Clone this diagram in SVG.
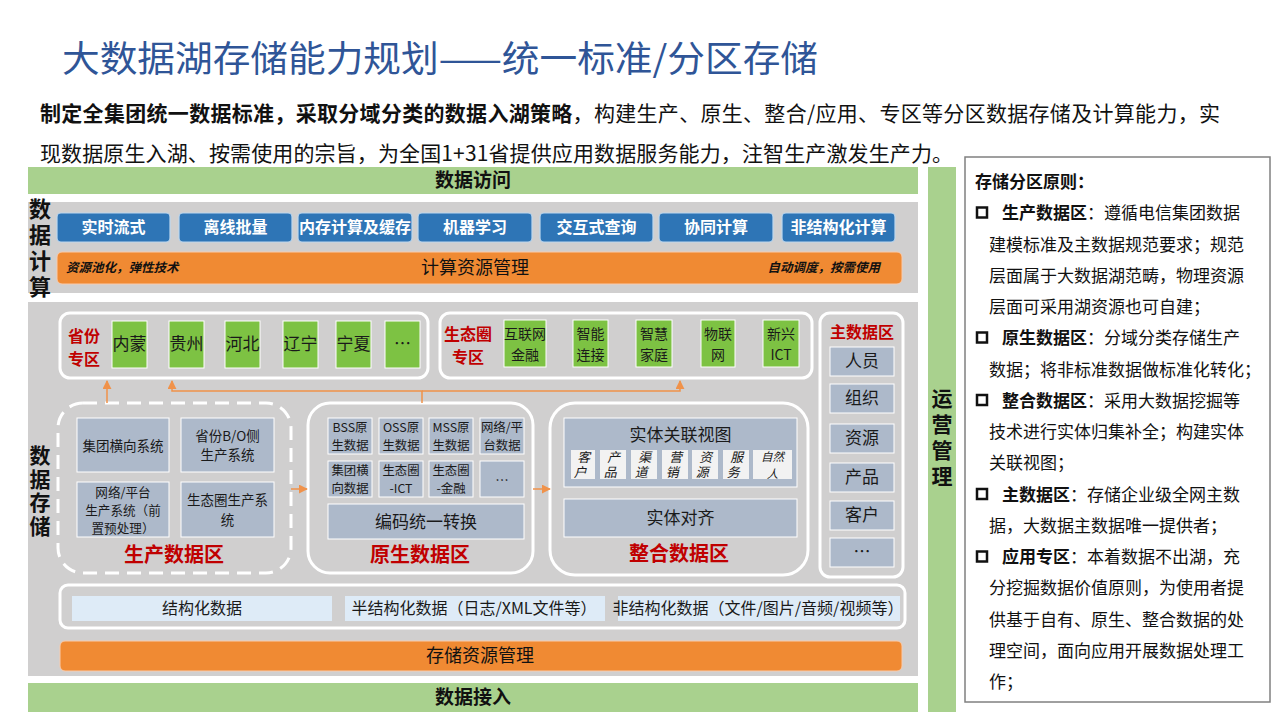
<svg xmlns="http://www.w3.org/2000/svg" width="1280" height="720" viewBox="0 0 1280 720">
<defs>
<marker id="ah" viewBox="0 0 10 10" refX="9" refY="5" markerWidth="6" markerHeight="6" orient="auto-start-reverse"><path d="M0,0 L10,5 L0,10 z" fill="#F0924A"/></marker>
</defs>
<style>
text{font-family:"Noto Sans CJK SC","Noto Sans",sans-serif;}
.green{fill:#A9D18E}
.gray{fill:#D0CFCF}
.btn{fill:#2E75B6;stroke:#BDD7EE;stroke-width:1.2}
.btnt{fill:#fff;font-size:16px;font-weight:bold;text-anchor:middle}
.orange{fill:#F08A33;stroke:#F8CBAD;stroke-width:1}
.frame{fill:none;stroke:#fff;stroke-width:3}
.dash{fill:none;stroke:#fff;stroke-width:3;stroke-dasharray:14 8}
.gbox{fill:#7DC243;stroke:#fff;stroke-width:1}
.bbox{fill:#ADB9CA;stroke:#fff;stroke-width:1}
.lbox{fill:#F2F2F2}
.sbox{fill:#DEEBF7}
.red{fill:#C00000;font-weight:bold;text-anchor:middle}
.c{text-anchor:middle;fill:#1a1a1a}
.s17{font-size:17px}
.s14{font-size:14px}
.s13{font-size:13.5px}
.s12{font-size:12.4px}
.it{font-size:11.5px;font-style:italic}
.vit{font-size:13px;fill:#1a1a1a;text-anchor:middle;writing-mode:vertical-rl;letter-spacing:2px}
.vl{font-weight:bold;text-anchor:middle;fill:#111}
.vert{font-weight:bold;text-anchor:middle;fill:#111;writing-mode:vertical-rl}
.conn{fill:none;stroke:#F0924A;stroke-width:1.5}
.pt{font-size:17px;fill:#111}
.bul{fill:none;stroke:#111;stroke-width:2.5}
</style>

<rect width="1280" height="720" fill="#fff"/>

<g id="title">
<text x="62" y="72" font-size="36" fill="#2F5597" textLength="756" lengthAdjust="spacingAndGlyphs">大数据湖存储能力规划——统一标准/分区存储</text>
<text x="40" y="121" font-size="21" fill="#111" textLength="1180"><tspan font-weight="bold">制定全集团统一数据标准，采取分域分类的数据入湖策略</tspan>，构建生产、原生、整合/应用、专区等分区数据存储及计算能力，实</text>
<text x="40" y="161" font-size="21" fill="#111" textLength="913">现数据原生入湖、按需使用的宗旨，为全国1+31省提供应用数据服务能力，注智生产激发生产力。</text>
</g>

<g id="data-access">
<rect class="green" x="28" y="167" width="890" height="27"/>
<text x="473" y="187" font-size="19" class="vl">数据访问</text>
</g>

<g id="data-compute">
<rect class="gray" x="28" y="202" width="890" height="91"/>
<text class="vert" x="40" y="250" font-size="22" letter-spacing="4">数据计算</text>
<g id="btn-realtime"><rect class="btn" x="57" y="213" width="113" height="29" rx="4"/><text class="btnt" x="113.5" y="233">实时流式</text></g>
<g id="btn-offline"><rect class="btn" x="179" y="213" width="113" height="29" rx="4"/><text class="btnt" x="235.5" y="233">离线批量</text></g>
<g id="btn-memory"><rect class="btn" x="298" y="213" width="114" height="29" rx="4"/><text class="btnt" x="355" y="233">内存计算及缓存</text></g>
<g id="btn-ml"><rect class="btn" x="418" y="213" width="114" height="29" rx="4"/><text class="btnt" x="475" y="233">机器学习</text></g>
<g id="btn-query"><rect class="btn" x="540" y="213" width="113" height="29" rx="4"/><text class="btnt" x="596.5" y="233">交互式查询</text></g>
<g id="btn-collab"><rect class="btn" x="659" y="213" width="114" height="29" rx="4"/><text class="btnt" x="716" y="233">协同计算</text></g>
<g id="btn-unstruct"><rect class="btn" x="782" y="213" width="113" height="29" rx="4"/><text class="btnt" x="838.5" y="233">非结构化计算</text></g>
<g id="compute-mgmt">
<rect class="orange" x="57" y="252" width="845" height="32" rx="5"/>
<text x="66" y="272" font-size="12.5" font-weight="bold" font-style="italic" fill="#111">资源池化，弹性技术</text>
<text x="475" y="274" font-size="18" text-anchor="middle" fill="#111">计算资源管理</text>
<text x="880" y="272" font-size="12.5" font-weight="bold" font-style="italic" fill="#111" text-anchor="end">自动调度，按需使用</text>
</g>
</g>

<g id="data-storage">
<rect class="gray" x="28" y="302" width="890" height="374"/>
<text class="vert" x="40" y="492" font-size="21" letter-spacing="2.5">数据存储</text>
</g>

<g id="province-zone">
<rect class="frame" x="60" y="313" width="368" height="65" rx="10"/>
<text class="red" font-size="16"><tspan x="84" y="341.5">省份</tspan><tspan x="84" y="364.8">专区</tspan></text>
<rect class="gbox" x="112" y="321" width="35" height="47"/><text class="c s17" x="129.5" y="350">内蒙</text>
<rect class="gbox" x="169" y="321" width="35" height="47"/><text class="c s17" x="186.5" y="350">贵州</text>
<rect class="gbox" x="225" y="321" width="35" height="47"/><text class="c s17" x="242.5" y="350">河北</text>
<rect class="gbox" x="283" y="321" width="35" height="47"/><text class="c s17" x="300.5" y="350">辽宁</text>
<rect class="gbox" x="336" y="321" width="35" height="47"/><text class="c s17" x="353.5" y="350">宁夏</text>
<rect class="gbox" x="385" y="321" width="35" height="47"/><text class="c s17" x="402.5" y="350">…</text>
</g>

<g id="eco-zone">
<rect class="frame" x="440" y="313" width="372" height="65" rx="10"/>
<text class="red" font-size="16"><tspan x="468" y="339.5">生态圈</tspan><tspan x="468" y="362.8">专区</tspan></text>
<rect class="gbox" x="504" y="320" width="42" height="47"/><text class="c s14"><tspan x="525" y="339">互联网</tspan><tspan x="525" y="359.5">金融</tspan></text>
<rect class="gbox" x="573" y="320" width="35" height="47"/><text class="c s14"><tspan x="590.5" y="339">智能</tspan><tspan x="590.5" y="359.5">连接</tspan></text>
<rect class="gbox" x="636" y="320" width="36" height="47"/><text class="c s14"><tspan x="654" y="339">智慧</tspan><tspan x="654" y="359.5">家庭</tspan></text>
<rect class="gbox" x="701" y="320" width="34" height="47"/><text class="c s14"><tspan x="718" y="339">物联</tspan><tspan x="718" y="359.5">网</tspan></text>
<rect class="gbox" x="763" y="320" width="36" height="47"/><text class="c s14"><tspan x="781" y="339">新兴</tspan><tspan x="781" y="359.5">ICT</tspan></text>
</g>

<g id="master-zone">
<rect class="frame" x="820" y="313" width="83" height="264" rx="10"/>
<text class="red" x="862" y="338" font-size="16">主数据区</text>
<rect class="bbox" x="830" y="347" width="64" height="29"/><text class="c s17" x="862" y="367">人员</text>
<rect class="bbox" x="830" y="384" width="64" height="29"/><text class="c s17" x="862" y="404">组织</text>
<rect class="bbox" x="830" y="424" width="64" height="29"/><text class="c s17" x="862" y="444">资源</text>
<rect class="bbox" x="830" y="463" width="64" height="29"/><text class="c s17" x="862" y="483">产品</text>
<rect class="bbox" x="830" y="501" width="64" height="29"/><text class="c s17" x="862" y="521">客户</text>
<rect class="bbox" x="830" y="538" width="64" height="29"/><text class="c s17" x="862" y="558">…</text>
</g>

<g id="production-zone">
<rect class="dash" x="58" y="403" width="233" height="170" rx="25"/>
<rect class="bbox" x="77" y="418" width="92" height="54"/><text class="c s13" x="123" y="451">集团横向系统</text>
<rect class="bbox" x="181" y="418" width="93" height="54"/><text class="c s13"><tspan x="227.5" y="440.5">省份B/O侧</tspan><tspan x="227.5" y="460.1">生产系统</tspan></text>
<rect class="bbox" x="77" y="482" width="92" height="55"/><text class="c" font-size="12.6"><tspan x="123" y="496.7">网络/平台</tspan><tspan x="123" y="515">生产系统（前</tspan><tspan x="123" y="533.3">置预处理）</tspan></text>
<rect class="bbox" x="181" y="482" width="93" height="55"/><text class="c s13"><tspan x="227.5" y="505">生态圈生产系</tspan><tspan x="227.5" y="524.6">统</tspan></text>
<text class="red" x="174" y="562" font-size="20">生产数据区</text>
</g>

<g id="native-zone">
<rect class="frame" x="308" y="403" width="225" height="170" rx="22"/>
<rect class="bbox" x="328" y="418" width="44" height="36"/><text class="c s12"><tspan x="350" y="432.4">BSS原</tspan><tspan x="350" y="450.4">生数据</tspan></text>
<rect class="bbox" x="379" y="418" width="44" height="36"/><text class="c s12"><tspan x="401" y="432.4">OSS原</tspan><tspan x="401" y="450.4">生数据</tspan></text>
<rect class="bbox" x="429" y="418" width="44" height="36"/><text class="c s12"><tspan x="451" y="432.4">MSS原</tspan><tspan x="451" y="450.4">生数据</tspan></text>
<rect class="bbox" x="480" y="418" width="44" height="36"/><text class="c s12"><tspan x="502" y="432.4">网络/平</tspan><tspan x="502" y="450.4">台数据</tspan></text>
<rect class="bbox" x="328" y="461" width="44" height="36"/><text class="c s12"><tspan x="350" y="475.4">集团横</tspan><tspan x="350" y="493.4">向数据</tspan></text>
<rect class="bbox" x="379" y="461" width="44" height="36"/><text class="c s12"><tspan x="401" y="475.4">生态圈</tspan><tspan x="401" y="493.4">-ICT</tspan></text>
<rect class="bbox" x="429" y="461" width="44" height="36"/><text class="c s12"><tspan x="451" y="475.4">生态圈</tspan><tspan x="451" y="493.4">-金融</tspan></text>
<rect class="bbox" x="480" y="461" width="44" height="36"/><text class="c s13" x="502" y="485">…</text>
<rect class="bbox" x="328" y="504" width="196" height="35"/><text class="c s17" x="426" y="528">编码统一转换</text>
<text class="red" x="420" y="562" font-size="20">原生数据区</text>
</g>

<g id="integration-zone">
<rect class="frame" x="550" y="403" width="258" height="172" rx="25"/>
<rect class="bbox" x="564" y="418" width="233" height="69"/><text class="c s17" x="680.5" y="441">实体关联视图</text>
<rect class="lbox" x="571" y="450" width="24" height="29"/><text class="vit" transform="translate(583,465.5) skewX(-13)">客户</text>
<rect class="lbox" x="600" y="450" width="26" height="29"/><text class="vit" transform="translate(613,465.5) skewX(-13)">产品</text>
<rect class="lbox" x="631" y="450" width="26" height="29"/><text class="vit" transform="translate(644,465.5) skewX(-13)">渠道</text>
<rect class="lbox" x="662" y="450" width="26" height="29"/><text class="vit" transform="translate(675,465.5) skewX(-13)">营销</text>
<rect class="lbox" x="692" y="450" width="26" height="29"/><text class="vit" transform="translate(705,465.5) skewX(-13)">资源</text>
<rect class="lbox" x="723" y="450" width="26" height="29"/><text class="vit" transform="translate(736,465.5) skewX(-13)">服务</text>
<rect class="lbox" x="753" y="450" width="39" height="29"/><text class="c it"><tspan x="772.5" y="461.2">自然</tspan><tspan x="772.5" y="477.9">人</tspan></text>
<rect class="bbox" x="564" y="499" width="233" height="38"/><text class="c s17" x="680.5" y="524">实体对齐</text>
<text class="red" x="679" y="561" font-size="20">整合数据区</text>
</g>

<g id="data-types">
<rect class="frame" x="60" y="585" width="845" height="43" rx="8"/>
<rect class="sbox" x="72" y="596" width="260" height="25"/><text class="c" x="202" y="614" font-size="16">结构化数据</text>
<rect class="sbox" x="345" y="596" width="260" height="25"/><text class="c" x="474" y="614" font-size="16">半结构化数据（日志/XML文件等）</text>
<rect class="sbox" x="618" y="596" width="282" height="25"/><text class="c" x="758" y="614" font-size="16">非结构化数据（文件/图片/音频/视频等）</text>
</g>

<g id="storage-mgmt">
<rect class="orange" x="60" y="641" width="842" height="30" rx="5"/>
<text x="480" y="662" font-size="18" text-anchor="middle" fill="#111">存储资源管理</text>
</g>

<g id="data-ingest">
<rect class="green" x="28" y="683" width="890" height="29"/>
<text x="473" y="704" font-size="19" class="vl">数据接入</text>
</g>

<g id="ops-mgmt">
<rect class="green" x="928" y="167" width="28" height="545"/>
<text class="vert" x="942" y="440" font-size="21" letter-spacing="5">运营管理</text>
</g>

<g id="connectors">
<path class="conn" d="M107,403 V381" marker-end="url(#ah)"/>
<path class="conn" d="M422,403 V391 H172 V381" marker-end="url(#ah)"/>
<path class="conn" d="M422,391 H680 V381" marker-end="url(#ah)"/>
<path class="conn" d="M291,489 H307" marker-end="url(#ah)"/>
<path class="conn" d="M533,489 H550" marker-end="url(#ah)"/>
</g>

<g id="principles">
<rect x="965" y="157" width="305" height="545" fill="#fff" stroke="#808080" stroke-width="1.5"/>
<text class="pt" x="975" y="188" font-weight="bold">存储分区原则：</text>
<rect class="bul" x="977" y="207.5" width="10" height="10"/>
<text class="pt" x="1002" y="219.25"><tspan font-weight="bold">生产数据区</tspan>：遵循电信集团数据</text>
<text class="pt" x="989" y="250.5">建模标准及主数据规范要求；规范</text>
<text class="pt" x="989" y="281.75">层面属于大数据湖范畴，物理资源</text>
<text class="pt" x="989" y="313">层面可采用湖资源也可自建；</text>
<rect class="bul" x="977" y="332.5" width="10" height="10"/>
<text class="pt" x="1002" y="344.25"><tspan font-weight="bold">原生数据区</tspan>：分域分类存储生产</text>
<text class="pt" x="989" y="375.5">数据；将非标准数据做标准化转化；</text>
<rect class="bul" x="977" y="395" width="10" height="10"/>
<text class="pt" x="1002" y="406.75"><tspan font-weight="bold">整合数据区</tspan>：采用大数据挖掘等</text>
<text class="pt" x="989" y="438">技术进行实体归集补全；构建实体</text>
<text class="pt" x="989" y="469.25">关联视图；</text>
<rect class="bul" x="977" y="489" width="10" height="10"/>
<text class="pt" x="1002" y="500.5"><tspan font-weight="bold">主数据区</tspan>：存储企业级全网主数</text>
<text class="pt" x="989" y="531.75">据，大数据主数据唯一提供者；</text>
<rect class="bul" x="977" y="551.5" width="10" height="10"/>
<text class="pt" x="1002" y="563"><tspan font-weight="bold">应用专区</tspan>：本着数据不出湖，充</text>
<text class="pt" x="989" y="594.25">分挖掘数据价值原则，为使用者提</text>
<text class="pt" x="989" y="625.5">供基于自有、原生、整合数据的处</text>
<text class="pt" x="989" y="656.75">理空间，面向应用开展数据处理工</text>
<text class="pt" x="989" y="688">作；</text>
</g>
</svg>
